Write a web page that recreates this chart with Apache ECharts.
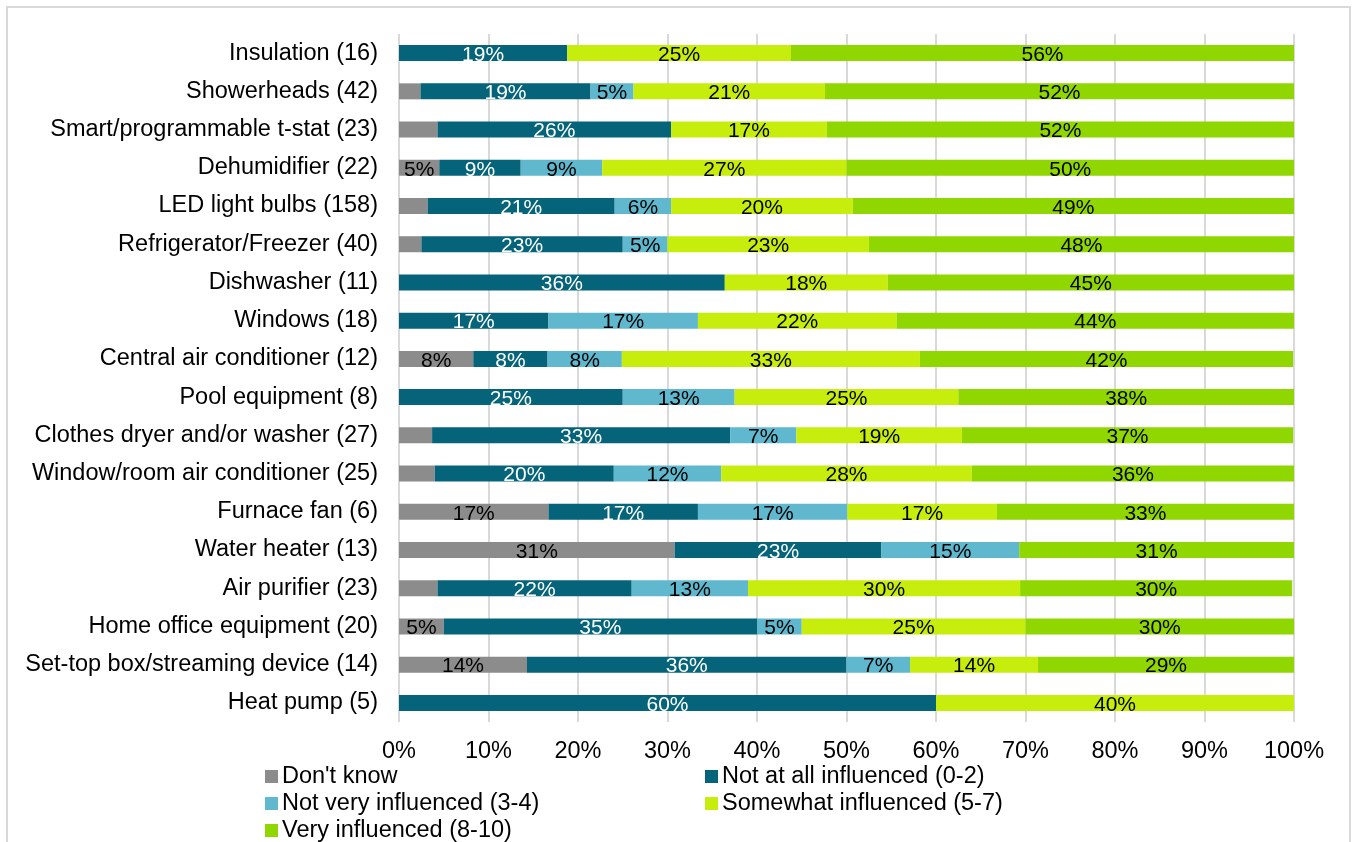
<!DOCTYPE html>
<html>
<head>
<meta charset="utf-8">
<script src="https://cdn.jsdelivr.net/npm/echarts@6/dist/echarts.min.js"></script>
<style>
  html, body { margin: 0; padding: 0; background: #fff; }
  #chart { width: 1352px; height: 842px; }
</style>
</head>
<body>
<div id="chart"></div>
<script>
const categories = ['Insulation (16)', 'Showerheads (42)', 'Smart/programmable t-stat (23)', 'Dehumidifier (22)', 'LED light bulbs (158)', 'Refrigerator/Freezer (40)', 'Dishwasher (11)', 'Windows (18)', 'Central air conditioner (12)', 'Pool equipment (8)', 'Clothes dryer and/or washer (27)', 'Window/room air conditioner (25)', 'Furnace fan (6)', 'Water heater (13)', 'Air purifier (23)', 'Home office equipment (20)', 'Set-top box/streaming device (14)', 'Heat pump (5)'];
const seriesNames = ["Don't know", 'Not at all influenced (0-2)', 'Not very influenced (3-4)', 'Somewhat influenced (5-7)', 'Very influenced (8-10)'];
const dontKnow = [0, 2.4, 4.3, 4.5, 3.2, 2.5, 0, 0, 8.3, 0, 3.7, 4.0, 16.7, 30.8, 4.3, 5.0, 14.3, 0];
const notAtAll = [18.8, 19.0, 26.1, 9.1, 20.9, 22.5, 36.4, 16.7, 8.3, 25.0, 33.3, 20.0, 16.7, 23.1, 21.7, 35.0, 35.7, 60.0];
const notVery = [0, 4.8, 0, 9.1, 6.3, 5.0, 0, 16.7, 8.3, 12.5, 7.4, 12.0, 16.7, 15.4, 13.0, 5.0, 7.1, 0];
const somewhat = [25.0, 21.4, 17.4, 27.3, 20.3, 22.5, 18.2, 22.2, 33.3, 25.0, 18.5, 28.0, 16.7, 0, 30.4, 25.0, 14.3, 40.0];
const very = [56.2, 52.4, 52.2, 50.0, 49.3, 47.5, 45.4, 44.4, 41.7, 37.5, 37.0, 36.0, 33.2, 30.7, 30.4, 30.0, 28.6, 0];
const xTicks = [0, 10, 20, 30, 40, 50, 60, 70, 80, 90, 100];

const colors = ['#8c8c8c', '#05647a', '#5fb8cd', '#c7ed0c', '#90d600'];
const labelColors = ['#000', '#fff', '#000', '#000', '#000'];
const FONT = "Arial, 'Liberation Sans', sans-serif";
const values = [dontKnow, notAtAll, notVery, somewhat, very];

const chart = echarts.init(document.getElementById('chart'), null, { renderer: 'canvas' });

const series = seriesNames.map((name, i) => ({
  name: name,
  type: 'bar',
  stack: 'total',
  barWidth: 16,
  data: values[i],
  itemStyle: { color: colors[i] },
  emphasis: { disabled: true },
  label: {
    show: true,
    position: 'inside',
    color: labelColors[i],
    fontFamily: FONT,
    fontSize: 21,
    offset: [0, 2],
    formatter: p => (p.value >= 4.45 ? Math.round(p.value) + '%' : '')
  }
}));

const legendText = { fontFamily: FONT, fontSize: 23.5, color: '#000', lineHeight: 27, padding: [0, 0, 0, -1] };

chart.setOption({
  animation: false,
  textStyle: { fontFamily: FONT },
  graphic: [{
    type: 'rect',
    shape: { x: 7, y: 7, width: 1343, height: 860 },
    style: { fill: 'none', stroke: '#d9d9d9', lineWidth: 2 },
    silent: true
  }],
  grid: { left: 399, right: 58, top: 34, bottom: 120, containLabel: false },
  legend: [{
    orient: 'vertical',
    left: 265, top: 763, height: 120, padding: 0,
    itemWidth: 13, itemHeight: 13, itemGap: 0,
    icon: 'rect',
    data: [seriesNames[0], seriesNames[2], seriesNames[4]],
    textStyle: legendText
  }, {
    orient: 'vertical',
    left: 705, top: 763, height: 120, padding: 0,
    itemWidth: 13, itemHeight: 13, itemGap: 0,
    icon: 'rect',
    data: [seriesNames[1], seriesNames[3]],
    textStyle: legendText
  }],
  xAxis: {
    type: 'value',
    min: xTicks[0], max: xTicks[xTicks.length - 1], interval: 10,
    axisLine: { show: false },
    axisTick: { show: false },
    splitLine: { show: true, lineStyle: { color: '#d9d9d9', width: 2 } },
    axisLabel: { formatter: '{value}%', fontFamily: FONT, fontSize: 23.5, color: '#000', margin: 18 }
  },
  yAxis: {
    type: 'category',
    inverse: true,
    data: categories,
    axisLine: { show: false },
    axisTick: { show: false },
    axisLabel: { fontFamily: FONT, fontSize: 23.5, color: '#000', margin: 21 }
  },
  series: series
});
</script>
</body>
</html>
